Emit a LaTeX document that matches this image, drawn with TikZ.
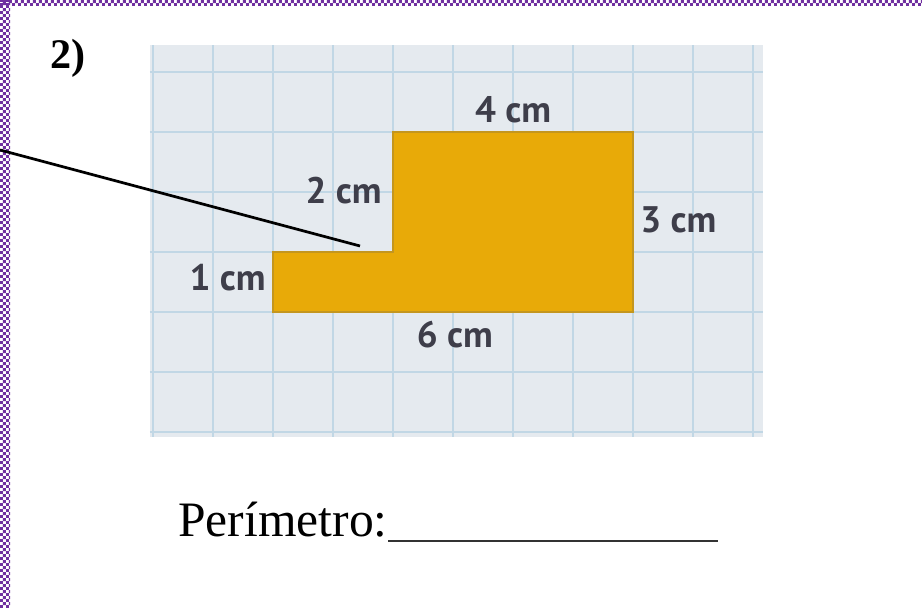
\documentclass[tikz,border=0pt]{standalone}
\usepackage{fontspec}
\setmainfont{Liberation Serif}
\setsansfont{PT Sans}
\usetikzlibrary{patterns}
\definecolor{gridbg}{RGB}{229,234,239}
\definecolor{gridcol}{RGB}{193,215,229}
\definecolor{shapefill}{RGB}{232,170,8}
\definecolor{shapeedge}{RGB}{196,150,30}
\definecolor{labelgray}{RGB}{62,62,74}
\definecolor{frameviolet}{RGB}{112,48,160}
\pgfdeclarepatternformonly{checks}{\pgfpointorigin}{\pgfqpoint{2.8pt}{2.8pt}}{\pgfqpoint{2.8pt}{2.8pt}}{%
  \pgfpathrectangle{\pgfpointorigin}{\pgfqpoint{1.4pt}{1.4pt}}%
  \pgfpathrectangle{\pgfqpoint{1.4pt}{1.4pt}}{\pgfqpoint{1.4pt}{1.4pt}}%
  \pgfusepath{fill}}
\tikzset{
  gridline/.style={line width=1.1pt, gridcol},
  figedge/.style={line width=0.6pt, shapeedge},
  cmlabel/.style={font=\sffamily\bfseries\fontsize{17.5}{17.5}\selectfont, text=labelgray, inner sep=1pt},
  pointer/.style={line width=1.3pt, black},
  blankln/.style={line width=1pt, black!80},
}

\begin{document}
\begin{tikzpicture}
  \useasboundingbox (-4.55,-4.933) rectangle (10.817,5.2);
  % checkered page frame
  \fill[pattern=checks, pattern color=frameviolet] (-4.55,5.1) rectangle (10.817,5.2);
  \fill[pattern=checks, pattern color=frameviolet] (-4.55,-4.933) rectangle (-4.383,5.2);
  % squared paper
  \fill[gridbg] (-2.05,-2.083) rectangle (8.167,4.45);
  \foreach \x in {-2,...,8}
    \draw[gridline] (\x,-2.083) -- (\x,4.45);
  \foreach \y in {-2,...,4}
    \draw[gridline] (-2.05,\y) -- (8.167,\y);
  % the L-shaped figure
  \fill[shapefill] (0,0) -- (6,0) -- (6,3) -- (2,3) -- (2,1) -- (0,1) -- cycle;
  \draw[figedge] (0,0) -- (6,0) -- (6,3) -- (2,3) -- (2,1) -- (0,1) -- cycle;
  % side lengths
  \node[cmlabel] (topside) at (4.0,3.37) {4 cm};
  \node[cmlabel, anchor=east] (stepside) at (1.85,2.03) {2 cm};
  \node[cmlabel, anchor=west] (rightside) at (6.08,1.53) {3 cm};
  \node[cmlabel, anchor=east] (leftside) at (-0.08,0.57) {1 cm};
  \node[cmlabel] (bottomside) at (3.03,-0.38) {6 cm};
  % exercise number and answer line
  \node[font=\bfseries\fontsize{20}{20}\selectfont] (exnum) at (-3.42,4.23) {2)};
  \node[anchor=base west, inner sep=0pt, font=\fontsize{23.5}{23.5}\selectfont] (perim) at (-1.583,-3.75) {Perímetro:};
  \coordinate (blankend) at (7.41,-3.817);
  \draw[blankln] (perim.east |- blankend) -- (blankend);
  % pointer line
  \coordinate (ptrstart) at (-4.55,2.7);
  \coordinate (ptrend) at (1.45,1.1);
  \draw[pointer] (ptrstart) -- (ptrend);
\end{tikzpicture}
\end{document}
